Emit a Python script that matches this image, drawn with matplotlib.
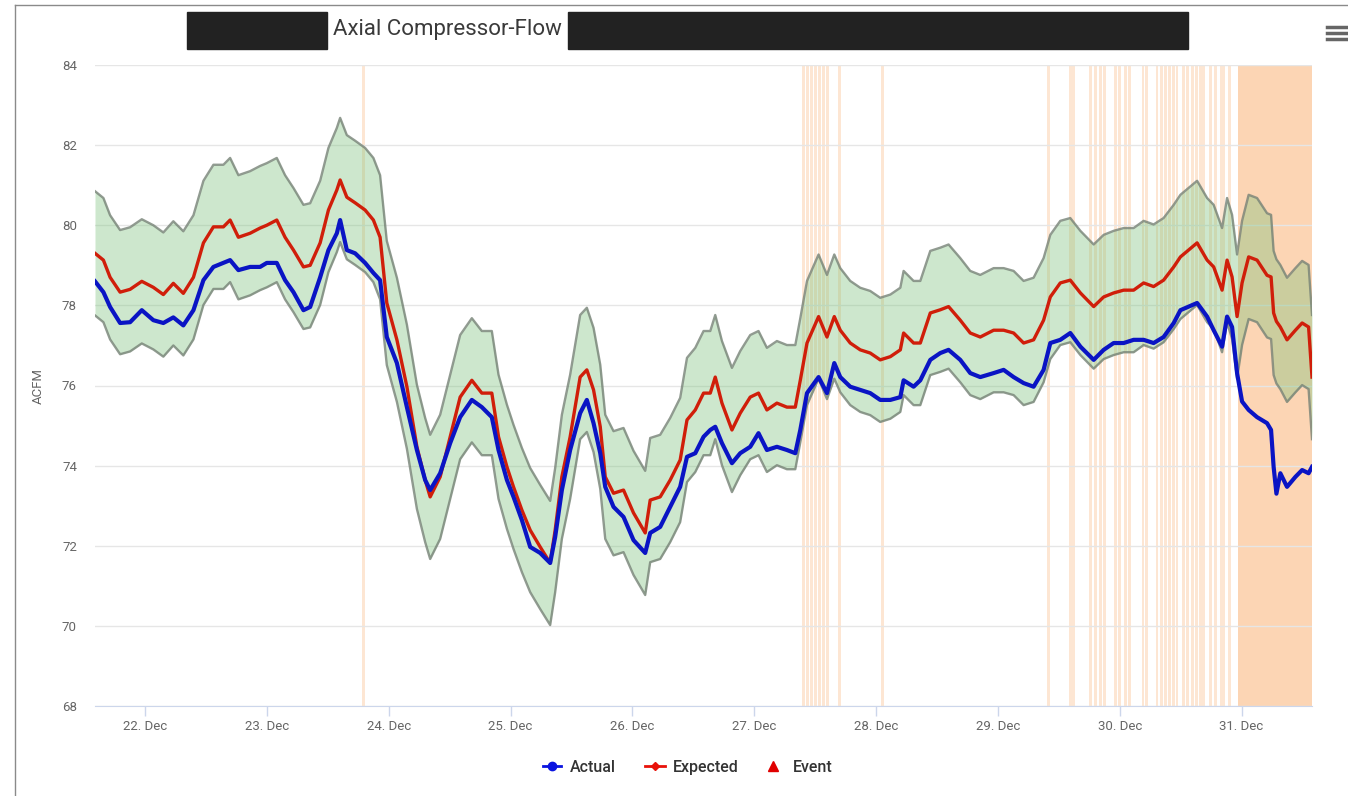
import numpy as np
import pandas as pd
import matplotlib
matplotlib.use("Agg")
import matplotlib.pyplot as plt
import matplotlib.dates as mdates
from matplotlib.lines import Line2D
from matplotlib.patches import Rectangle

# time axis: fractional day of December
DAYS = [
    21.589, 21.658, 21.713, 21.795, 21.877, 21.973, 22.068, 22.150, 22.232, 22.314,
    22.397, 22.479, 22.561, 22.643, 22.698, 22.766, 22.862, 22.944, 22.999, 23.081,
    23.149, 23.218, 23.300, 23.355, 23.437, 23.505, 23.574,
    23.601, 23.656, 23.724, 23.806, 23.874, 23.929, 23.984, 24.067, 24.149, 24.231,
    24.299, 24.340, 24.422, 24.504, 24.586, 24.682, 24.764, 24.846, 24.901, 24.970,
    25.024, 25.093, 25.161, 25.243, 25.325, 25.366, 25.421, 25.489,
    25.571, 25.626, 25.681, 25.736, 25.777, 25.845, 25.927, 26.009, 26.105, 26.146,
    26.228, 26.310, 26.392, 26.448, 26.516, 26.584, 26.639, 26.680, 26.735, 26.817,
    26.885, 26.967, 27.035, 27.104, 27.186, 27.268, 27.337, 27.378, 27.433, 27.528,
    27.597,
    27.657, 27.706, 27.788, 27.870, 27.952, 28.034, 28.117, 28.199, 28.226, 28.308,
    28.363, 28.445, 28.527, 28.595, 28.691, 28.773, 28.855, 28.965, 29.047, 29.129,
    29.211, 29.293, 29.375, 29.430, 29.512, 29.594, 29.677, 29.786, 29.868, 29.950,
    30.032, 30.114, 30.196, 30.278, 30.360, 30.443,
    30.498, 30.635, 30.717, 30.771, 30.840, 30.881, 30.922, 30.963, 31.004, 31.058,
    31.127, 31.209, 31.242, 31.263, 31.286, 31.318, 31.373, 31.442, 31.497, 31.550,
    31.578,
]

EXPECTED = [
    79.30, 79.13, 78.70, 78.33, 78.40, 78.60, 78.45, 78.27, 78.55, 78.30,
    78.70, 79.56, 79.96, 79.96, 80.13, 79.70, 79.80, 79.93, 80.00, 80.13,
    79.70, 79.38, 78.96, 79.00, 79.56, 80.38, 80.88,
    81.13, 80.70, 80.56, 80.38, 80.13, 79.70, 78.06, 77.14, 75.97, 74.47,
    73.64, 73.22, 73.72, 74.72, 75.71, 76.13, 75.81, 75.81, 74.72, 73.97,
    73.47, 72.89, 72.39, 71.97, 71.57, 72.39, 73.72, 74.72,
    76.21, 76.39, 75.89, 74.97, 73.72, 73.31, 73.39, 72.82, 72.32, 73.14,
    73.22, 73.64, 74.14, 75.14, 75.39, 75.81, 75.81, 76.21, 75.56, 74.89,
    75.31, 75.71, 75.81, 75.39, 75.56, 75.46, 75.46, 76.13, 77.06, 77.72,
    77.21,
    77.72, 77.38, 77.06, 76.89, 76.81, 76.64, 76.72, 76.89, 77.31, 77.06,
    77.06, 77.81, 77.89, 77.97, 77.63, 77.31, 77.21, 77.38, 77.38, 77.31,
    77.06, 77.14, 77.63, 78.21, 78.56, 78.63, 78.31, 77.97, 78.21, 78.31,
    78.38, 78.38, 78.56, 78.47, 78.63, 78.96,
    79.21, 79.56, 79.13, 78.96, 78.38, 79.13, 78.71, 77.72, 78.56, 79.21,
    79.13, 78.75, 78.71, 77.81, 77.60, 77.46, 77.14, 77.38, 77.56, 77.46,
    76.21,
]

ACTUAL = [
    78.60, 78.33, 77.96, 77.56, 77.58, 77.88, 77.63, 77.56, 77.70, 77.50,
    77.88, 78.63, 78.96, 79.06, 79.13, 78.88, 78.96, 78.96, 79.06, 79.06,
    78.63, 78.33, 77.88, 77.96, 78.70, 79.38, 79.80,
    80.13, 79.38, 79.30, 79.06, 78.81, 78.63, 77.21, 76.56, 75.46, 74.39,
    73.64, 73.39, 73.81, 74.56, 75.21, 75.64, 75.46, 75.21, 74.39, 73.64,
    73.22, 72.64, 71.97, 71.82, 71.57, 72.22, 73.39, 74.39,
    75.31, 75.64, 75.06, 74.31, 73.47, 72.97, 72.72, 72.14, 71.82, 72.32,
    72.47, 72.97, 73.47, 74.22, 74.31, 74.72, 74.89, 74.97, 74.56, 74.06,
    74.31, 74.47, 74.81, 74.39, 74.47, 74.39, 74.31, 74.89, 75.81, 76.21,
    75.81,
    76.56, 76.21, 75.97, 75.89, 75.81, 75.64, 75.64, 75.71, 76.13, 75.97,
    76.13, 76.64, 76.81, 76.89, 76.64, 76.31, 76.21, 76.31, 76.39, 76.21,
    76.06, 75.97, 76.39, 77.06, 77.14, 77.31, 76.97, 76.64, 76.89, 77.06,
    77.06, 77.14, 77.14, 77.06, 77.21, 77.56,
    77.88, 78.06, 77.72, 77.38, 76.97, 77.72, 77.46, 76.31, 75.60, 75.39,
    75.21, 75.06, 74.89, 73.97, 73.30, 73.81, 73.47, 73.72, 73.89, 73.81,
    73.97,
]

# expected-range band half width (ACFM)
BAND_HALF_WIDTH = 1.55

# event marks (day of December) and the long event window at the end
EVENT_DAYS = [
    23.790, 27.402, 27.435, 27.468, 27.500, 27.533, 27.567, 27.599, 27.698, 28.051,
    29.416, 29.594, 29.622, 29.759, 29.800, 29.841, 29.874, 29.964, 29.999, 30.046,
    30.081, 30.191, 30.218, 30.306, 30.339, 30.374, 30.410, 30.443, 30.470, 30.520,
    30.553, 30.594, 30.629, 30.662, 30.689, 30.744, 30.785, 30.832, 30.853, 30.902,
]
EVENT_WINDOW = (30.974, 31.578)

Y_TICKS = [68, 70, 72, 74, 76, 78, 80, 82, 84]
X_TICK_DAYS = [22, 23, 24, 25, 26, 27, 28, 29, 30, 31]

LEGEND_LABELS = ["Actual", "Expected", "Event"]


def to_num(days):
    base = pd.Timestamp("2019-12-01")
    ts = base + pd.to_timedelta(np.asarray(days, dtype=float) - 1, unit="D")
    return mdates.date2num(ts.to_pydatetime())


plt.rcParams["font.family"] = ["Roboto", "DejaVu Sans"]

W, H = 1348, 796
fig = plt.figure(figsize=(W / 100, H / 100), dpi=100)
ax = fig.add_axes([95 / W, 1 - 706 / H, (1312 - 95) / W, (706 - 65) / H])

t = to_num(DAYS)
exp = np.array(EXPECTED)
act = np.array(ACTUAL)

# event plot bands
mark_w = 0.024
for d in EVENT_DAYS:
    s, e = to_num([d - mark_w / 2, d + mark_w / 2])
    ax.axvspan(s, e, color="#fde6d3", lw=0, zorder=0.2)
ws, we = to_num(EVENT_WINDOW)
ax.axvspan(ws, we, color="#fcd5b4", lw=0, zorder=0.2)

# expected range band
lo = exp - BAND_HALF_WIDTH
hi = exp + BAND_HALF_WIDTH
ax.fill_between(t, lo, hi, color="#7cc27c", alpha=0.38, lw=0, zorder=1)
ax.plot(t, hi, color="#768276", lw=1.7, alpha=0.8, zorder=1.5)
ax.plot(t, lo, color="#768276", lw=1.7, alpha=0.8, zorder=1.5)

ax.plot(t, exp, color="#d01e0a", lw=2.4, zorder=3)
ax.plot(t, act, color="#0a14c4", lw=3.0, zorder=4)

ax.set_xlim(t[0], t[-1])
ax.set_ylim(68, 84)
ax.set_yticks(Y_TICKS)
ax.set_xticks(to_num(X_TICK_DAYS))
ax.xaxis.set_major_formatter(mdates.DateFormatter("%d. %b"))

ax.set_axisbelow(True)
ax.grid(axis="y", color="#e6e6e6", lw=1)
for side in ["top", "right", "left"]:
    ax.spines[side].set_visible(False)
ax.spines["bottom"].set_color("#ccd6eb")
ax.tick_params(axis="y", length=0, pad=13, labelsize=9.5, labelcolor="#666666")
ax.tick_params(axis="x", length=7, width=1, color="#ccd6eb", pad=3,
               labelsize=9.5, labelcolor="#666666")
ax.set_ylabel("ACFM", fontsize=9.5, color="#666666", labelpad=12)

# title with redacted parts
fig.text(447 / W, 1 - 29 / H, "Axial Compressor-Flow", ha="center", va="center",
         fontsize=16, color="#3a3a3a")
fig.patches.append(Rectangle((187 / W, 1 - 49 / H), 140 / W, 37 / H,
                             transform=fig.transFigure, color="#222222"))
fig.patches.append(Rectangle((568 / W, 1 - 49 / H), 620 / W, 37 / H,
                             transform=fig.transFigure, color="#222222"))

# hamburger menu icon
for yy in [27, 33, 39]:
    fig.add_artist(Line2D([1327 / W, 1347 / W], [1 - yy / H, 1 - yy / H],
                          transform=fig.transFigure, color="#666666", lw=2.5))

# screenshot frame
fig.add_artist(Line2D([15 / W, 15 / W], [0, 1 - 5 / H], transform=fig.transFigure,
                      color="#8a8a8a", lw=1))
fig.add_artist(Line2D([15 / W, 1], [1 - 5 / H, 1 - 5 / H], transform=fig.transFigure,
                      color="#8a8a8a", lw=1))

# legend, drawn by hand so the three entries share one baseline
ly = 1 - 766 / H
leg_items = [
    (543, 561, "#0a14e0", "-", "o", 6, 570),
    (645, 665, "#e8120a", "-", "D", 4.5, 673),
    (766, 780, "#e00000", "none", "^", 7, 793),
]
for (x0, x1, col, ls, mk, ms, tx), lab in zip(leg_items, LEGEND_LABELS):
    fig.add_artist(Line2D([x0 / W, x1 / W], [ly, ly], transform=fig.transFigure,
                          color=col, lw=2, ls=ls))
    fig.add_artist(Line2D([(x0 + x1) / 2 / W], [ly], transform=fig.transFigure,
                          color=col, marker=mk, markersize=ms, lw=0))
    fig.text(tx / W, ly, lab, ha="left", va="center_baseline", fontsize=11.5,
             fontweight="medium", color="#333333")

fig.savefig("out.png", dpi=100)
